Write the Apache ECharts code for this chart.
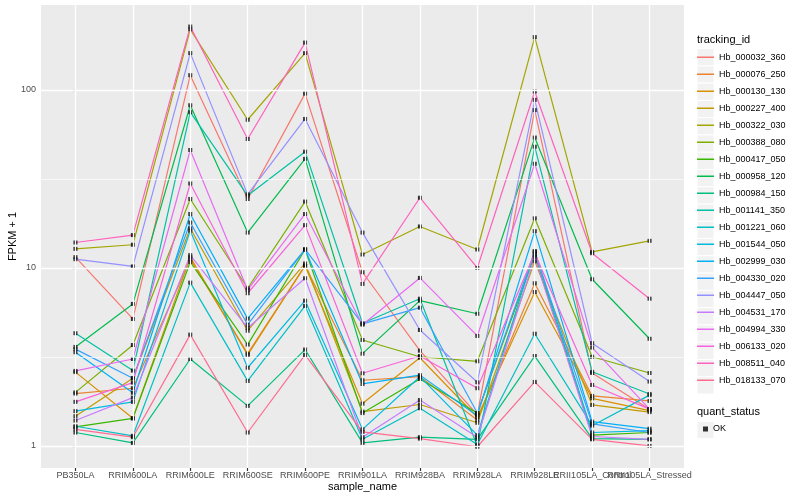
<!DOCTYPE html>
<html><head><meta charset="utf-8">
<script src="https://cdn.jsdelivr.net/npm/echarts@6/dist/echarts.min.js"></script>
<style>html,body{margin:0;padding:0;background:#fff}#c{width:800px;height:500px}</style>
</head><body><div id="c"></div>
<script>
// ---------- data ----------
const categories = ['PB350LA','RRIM600LA','RRIM600LE','RRIM600SE','RRIM600PE','RRIM901LA','RRIM928BA','RRIM928LA','RRIM928LE','RRII105LA_Control','RRII105LA_Stressed'];
const trackingIds = ['Hb_000032_360','Hb_000076_250','Hb_000130_130','Hb_000227_400','Hb_000322_030','Hb_000388_080','Hb_000417_050','Hb_000958_120','Hb_000984_150','Hb_001141_350','Hb_001221_060','Hb_001544_050','Hb_002999_030','Hb_004330_020','Hb_004447_050','Hb_004531_170','Hb_004994_330','Hb_006133_020','Hb_008511_040','Hb_018133_070'];
const lineColors = ['#F8766D','#EA8331','#D89000','#C09B00','#A3A500','#7CAE00','#39B600','#00BB4E','#00BF7D','#00C1A3','#00BFC4','#00BAE0','#00B0F6','#35A2FF','#9590FF','#C77CFF','#E76BF3','#FA62DB','#FF62BC','#FF6C91'];

const hb_000032_360 = [11.5, 5.17, 121, 24.4, 95.3, 9.46, 3.43, 1.5, 77, 2.57, 1.61];
const hb_000076_250 = [1.97, 2.11, 11.2, 3.30, 10.3, 2.34, 2.45, 1.40, 8.2, 1.91, 1.79];
const hb_000130_130 = [2.6, 1.43, 11.5, 3.25, 10.3, 1.73, 3.13, 1.45, 7.33, 1.85, 1.58];
const hb_000227_400 = [1.47, 2.4, 16.7, 4.44, 10.6, 1.56, 1.71, 1.35, 10.9, 1.70, 1.55];
const hb_000322_030 = [12.8, 13.5, 219, 68, 161, 11.9, 17.1, 12.7, 198, 12.3, 14.2];
const hb_000388_080 = [2.0, 3.69, 24.4, 7.69, 23.6, 3.94, 3.17, 2.99, 19.0, 3.17, 2.57];
const hb_000417_050 = [1.28, 1.43, 10.8, 3.71, 12.7, 1.53, 2.38, 1.53, 11.8, 1.15, 1.19];
const hb_000958_120 = [3.6, 6.28, 82, 15.8, 41, 3.30, 6.55, 5.53, 54, 8.64, 4.0];
const hb_000984_150 = [1.19, 1.04, 3.08, 1.68, 3.48, 1.04, 1.12, 1.09, 3.2, 1.10, 1.09];
const hb_001141_350 = [4.3, 2.65, 75, 25.5, 45, 4.89, 6.72, 1.0, 48, 2.61, 1.96];
const hb_001221_060 = [1.29, 1.14, 8.27, 2.32, 6.12, 1.09, 1.63, 1.02, 4.27, 1.30, 1.93];
const hb_001544_050 = [1.57, 1.77, 16.2, 2.75, 6.55, 1.24, 2.45, 1.15, 12.4, 1.19, 1.22];
const hb_002999_030 = [3.36, 1.99, 20.1, 5.19, 12.7, 2.23, 2.5, 1.48, 16.1, 1.37, 1.25];
const hb_004330_020 = [3.5, 2.4, 18, 4.80, 12.7, 4.85, 5.98, 1.53, 12.4, 1.33, 1.19];
const hb_004447_050 = [11.2, 10.2, 161, 25.9, 68.7, 15.8, 4.48, 2.28, 88, 3.78, 2.30];
const hb_004531_170 = [1.39, 1.87, 11.8, 4.6, 8.75, 1.12, 1.81, 1.12, 11.5, 1.13, 1.09];
const hb_004994_330 = [2.64, 3.08, 46, 7.52, 20.1, 4.80, 8.79, 4.15, 38.5, 3.57, 1.61];
const hb_006133_020 = [1.77, 2.27, 29.8, 7.21, 17.4, 2.56, 3.2, 2.11, 12.1, 2.20, 1.61];
const hb_008511_040 = [13.9, 15.3, 227, 53, 184.5, 8.13, 24.8, 10.0, 98, 12.1, 6.72];
const hb_018133_070 = [1.24, 1.12, 4.22, 1.19, 3.25, 1.20, 1.10, 0.99, 2.29, 1.09, 1.0];

const yTickValues = [1, 10, 100];
const yMinorValues = [3.1623, 31.623];
const quantStatus = ['OK'];

const seriesValues = [hb_000032_360, hb_000076_250, hb_000130_130, hb_000227_400, hb_000322_030, hb_000388_080, hb_000417_050, hb_000958_120, hb_000984_150, hb_001141_350, hb_001221_060, hb_001544_050, hb_002999_030, hb_004330_020, hb_004447_050, hb_004531_170, hb_004994_330, hb_006133_020, hb_008511_040, hb_018133_070];

// ---------- chart ----------
const FONT = 'Liberation Sans, Arial, Helvetica, sans-serif';
const catIdx = categories.map((c, i) => i);
const chart = echarts.init(document.getElementById('c'), null, {renderer: 'canvas', width: 800, height: 500});

const gridLines = [];
catIdx.forEach(i => gridLines.push({xAxis: i, lineStyle: {color: '#FFFFFF', width: 1.3, type: 'solid'}}));
yTickValues.forEach(v => gridLines.push({yAxis: v, lineStyle: {color: '#FFFFFF', width: 1.3, type: 'solid'}}));
yMinorValues.forEach(v => gridLines.push({yAxis: v, lineStyle: {color: '#FFFFFF', width: 0.65, type: 'solid'}}));

const lineSeries = trackingIds.map((id, k) => ({
  name: id, type: 'line', symbol: 'none', showSymbol: false, silent: true, animation: false, z: 2,
  data: seriesValues[k].map((v, i) => [i, v]),
  lineStyle: {width: 1.2, color: lineColors[k]}, itemStyle: {color: lineColors[k]}
}));

const pointData = [];
seriesValues.forEach(vals => vals.forEach((v, i) => pointData.push([i, v])));

const KEY_X = 697, KEY_TOP = 48.6, KEY_H = 17.27;
const keyRects = trackingIds.map((id, k) => ({
  type: 'rect', x: KEY_X, y: KEY_TOP + k * KEY_H, z: -1,
  shape: {x: 0, y: 0, width: 17, height: KEY_H}, style: {fill: '#F2F2F2', stroke: '#FFFFFF', lineWidth: 1}
}));
keyRects.push({type: 'rect', x: KEY_X, y: 421.5, z: -1, shape: {x: 0, y: 0, width: 17, height: KEY_H}, style: {fill: '#F2F2F2', stroke: '#FFFFFF', lineWidth: 1}});

const LINE_KEY = 'path://M0,0L0.01,0L0,0.01Z M0,8L17,8L17,9.3L0,9.3Z M17,17L16.99,17L17,16.99Z';

// label groups: split across overlaid axes so that overlapping neighbour labels are all kept
const labelGroups = [catIdx.slice(0, 9), [9], [10]];
const labelStyle = {fontSize: 9, color: '#4D4D4D', margin: 3, fontFamily: FONT, hideOverlap: false};
const xAxes = labelGroups.map((grp, g) => ({
  type: 'value', min: -0.6, max: 10.6, position: 'bottom', offset: 0,
  axisLine: {show: false}, splitLine: {show: false},
  axisTick: g === 0 ? {show: true, length: 3, lineStyle: {color: '#333333', width: 1.2}, customValues: catIdx} : {show: false},
  axisLabel: Object.assign({customValues: grp, formatter: v => categories[Math.round(v)], showMinLabel: true, showMaxLabel: true}, labelStyle),
  name: g === 0 ? 'sample_name' : '', nameLocation: 'middle', nameGap: 13.5, nameMoveOverlap: false,
  nameTextStyle: {fontSize: 11, color: '#000', fontFamily: FONT, verticalAlign: 'top'}
}));

chart.setOption({
  animation: false,
  backgroundColor: '#FFFFFF',
  textStyle: {fontFamily: FONT},
  grid: {left: 41, top: 5, width: 643, height: 463, show: true, backgroundColor: '#EBEBEB', borderWidth: 0,
         containLabel: false, outerBoundsMode: 'none'},
  title: [
    {text: 'tracking_id', left: 697, top: 34, padding: 0, textStyle: {fontSize: 11, fontWeight: 'normal', color: '#000', fontFamily: FONT}},
    {text: 'quant_status', left: 697, top: 406.5, padding: 0, textStyle: {fontSize: 11, fontWeight: 'normal', color: '#000', fontFamily: FONT}}
  ],
  graphic: keyRects,
  legend: [
    {orient: 'vertical', left: KEY_X, top: KEY_TOP, itemWidth: 17, itemHeight: KEY_H, itemGap: 0, itemTextGap: 4,
     padding: 0, data: trackingIds, selectedMode: false, icon: LINE_KEY, itemStyle: {borderWidth: 0},
     textStyle: {fontSize: 9, color: '#000', fontFamily: FONT}},
    {orient: 'vertical', left: 703, top: 424.5, itemWidth: 5, itemHeight: 5, itemGap: 0, itemTextGap: 10,
     padding: 0, selectedMode: false,
     data: quantStatus.map(n => ({name: n, icon: 'rect', itemStyle: {color: '#000', borderWidth: 0}})),
     textStyle: {fontSize: 9, color: '#000', fontFamily: FONT}}
  ],
  xAxis: xAxes,
  yAxis: {
    type: 'log', logBase: 10, min: 0.752, max: 300,
    axisLine: {show: false}, splitLine: {show: false},
    axisTick: {show: true, length: 3, lineStyle: {color: '#333333', width: 1.2}, customValues: yTickValues},
    axisLabel: {customValues: yTickValues, formatter: v => String(Math.round(v)), fontSize: 9, color: '#4D4D4D', margin: 5,
                fontFamily: FONT, hideOverlap: false},
    name: 'FPKM + 1', nameLocation: 'middle', nameGap: 22.5, nameRotate: 90, nameMoveOverlap: false,
    nameTextStyle: {fontSize: 11, color: '#000', fontFamily: FONT}
  },
  series: [
    {type: 'line', name: '__grid', data: [], silent: true, z: 1,
     markLine: {silent: true, symbol: 'none', animation: false, label: {show: false}, data: gridLines}},
    ...lineSeries,
    {name: 'OK', type: 'scatter', symbol: 'rect', symbolSize: 4, silent: true, z: 3,
     itemStyle: {color: '#000000'}, data: pointData}
  ]
});
</script>
</body></html>
